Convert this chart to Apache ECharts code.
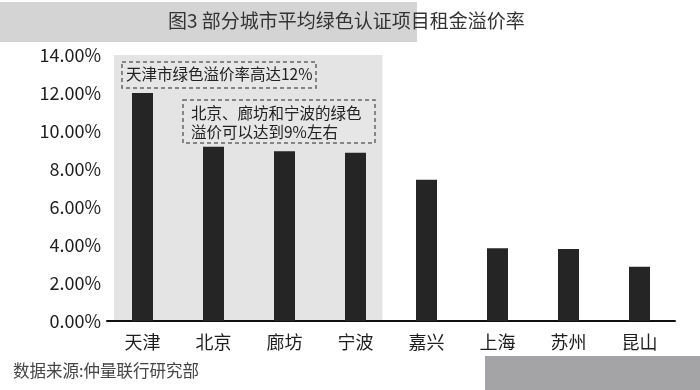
<!DOCTYPE html>
<html>
<head>
<meta charset="utf-8">
<script src="https://cdn.jsdelivr.net/npm/echarts@6/dist/echarts.min.js"></script>
<style>
html,body{margin:0;padding:0;background:#fff;}
#c{width:700px;height:390px;}
</style>
</head>
<body>
<div id="c"></div>
<script>
const categories = ['天津','北京','廊坊','宁波','嘉兴','上海','苏州','昆山'];
const premium = [12.0, 9.17, 8.93, 8.86, 7.44, 3.83, 3.79, 2.86];
const yTicks = [0, 2, 4, 6, 8, 10, 12, 14];
const titleText = '图3 部分城市平均绿色认证项目租金溢价率';
const note1 = '天津市绿色溢价率高达12%';
const note2 = '北京、廊坊和宁波的绿色\n溢价可以达到9%左右';
const sourceText = '数据来源:仲量联行研究部';
const highlighted = ['天津', '宁波'];

const FONT = '"Noto Sans CJK SC", "Noto Sans", sans-serif';
const chart = echarts.init(document.getElementById('c'), null, {renderer: 'canvas'});

chart.setOption({
  animation: false,
  backgroundColor: '#ffffff',
  grid: {left: 107, right: 25, top: 55, bottom: 69, containLabel: false},
  xAxis: {
    type: 'category',
    data: categories,
    axisLine: {show: true, lineStyle: {color: '#111', width: 2}},
    axisTick: {show: false},
    axisLabel: {color: '#1e1e1e', fontSize: 18, fontFamily: FONT, margin: 12}
  },
  yAxis: {
    type: 'value',
    min: yTicks[0],
    max: yTicks[yTicks.length - 1],
    interval: 2,
    axisLine: {show: false},
    axisTick: {show: false},
    splitLine: {show: false},
    axisLabel: {
      color: '#1e1e1e', fontSize: 18, fontFamily: FONT, margin: 6,
      formatter: v => v.toFixed(2) + '%'
    }
  },
  series: [{
    type: 'bar',
    data: premium,
    barWidth: 21,
    itemStyle: {color: '#252525'}
  }]
});

const x0 = chart.convertToPixel({xAxisIndex: 0}, highlighted[0]);
const x1 = chart.convertToPixel({xAxisIndex: 0}, highlighted[1]);
const yTop = chart.convertToPixel({yAxisIndex: 0}, yTicks[yTicks.length - 1]);
const yBot = chart.convertToPixel({yAxisIndex: 0}, 0);

chart.setOption({
  graphic: [
    {type: 'rect', z: -10, shape: {x: 0, y: 2, width: 417, height: 40}, style: {fill: '#d4d4d4'}},
    {type: 'text', z: 5, left: 168, top: 11, style: {text: titleText, font: '19px ' + FONT, fill: '#333'}},
    {type: 'rect', z: -10, shape: {x: x0 - 28.5, y: yTop, width: (x1 + 27) - (x0 - 28.5), height: yBot - yTop}, style: {fill: '#e4e4e4'}},
    {type: 'rect', z: 5, shape: {x: 122, y: 62, width: 194, height: 26}, style: {fill: '#e6e6e6', stroke: '#666', lineWidth: 1.5, lineDash: [4, 3]}},
    {type: 'text', z: 6, left: 126, top: 66, style: {text: note1, font: '15.5px ' + FONT, fill: '#222'}},
    {type: 'rect', z: 5, shape: {x: 183, y: 100, width: 192, height: 43}, style: {fill: '#e6e6e6', stroke: '#666', lineWidth: 1.5, lineDash: [4, 3]}},
    {type: 'text', z: 6, left: 191, top: 104, style: {text: note2, font: '15.5px ' + FONT, fill: '#222', lineHeight: 19}},
    {type: 'text', z: 5, left: 13, top: 362, style: {text: sourceText, font: '16.5px ' + FONT, fill: '#444'}},
    {type: 'rect', z: 5, shape: {x: 485, y: 356, width: 215, height: 34}, style: {fill: '#a4a4a7'}}
  ]
});
</script>
</body>
</html>
